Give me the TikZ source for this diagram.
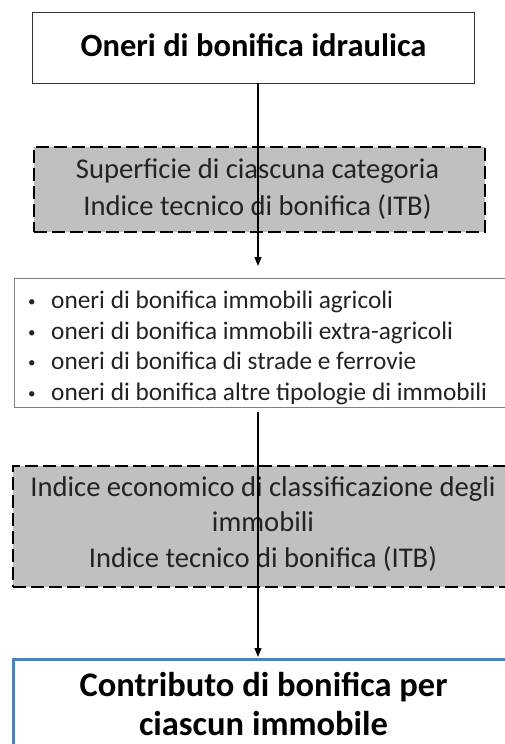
\documentclass[tikz,border=0pt]{standalone}
\usepackage{fontspec}
\setmainfont{Carlito}
\usetikzlibrary{arrows.meta}
\definecolor{boxgray}{RGB}{192,192,192}
\definecolor{edgeblue}{RGB}{79,129,189}
\definecolor{txt}{RGB}{35,35,35}
\newcommand{\smallbul}{\makebox[25pt][l]{\hspace{2pt}\raisebox{2pt}{\fontsize{15}{15}\selectfont\textbullet}}}
\tikzset{
  plainbox/.style={draw=black!80, line width=1.3pt, fill=white, inner sep=0pt},
  listbox/.style={draw=black!50, line width=1.4pt, fill=white, inner sep=0pt},
  graybox/.style={draw=black, fill=boxgray, line width=2pt, dash pattern=on 13pt off 5pt, inner sep=0pt},
  bluebox/.style={draw=edgeblue, line width=2.5pt, fill=white, inner sep=0pt},
  arr/.style={line width=1.2pt, -{Triangle[length=9pt,width=7pt]}},
  txtnode/.style={inner sep=0pt, text=txt, align=center},
}
\begin{document}
\begin{tikzpicture}[x=1pt,y=-1pt]
\useasboundingbox (0,0) rectangle (505,744);
\clip (0,0) rectangle (505,744);
% boxes
\node[plainbox, anchor=north west, minimum width=442pt, minimum height=71pt] (b1) at (32,12) {};
\node[graybox, anchor=north west, minimum width=451pt, minimum height=85pt] (b2) at (33,146) {};
\node[listbox, anchor=north west, minimum width=500pt, minimum height=129pt] (b3) at (14,278) {};
\node[graybox, anchor=north west, minimum width=510pt, minimum height=121pt] (b4) at (12,465) {};
\node[bluebox, anchor=north west, minimum width=510pt, minimum height=110pt] (b5) at (12,658) {};
% texts
\node[txtnode, text=black, font=\fontsize{32.5}{38}\selectfont\bfseries] (t1) at (253.5,45) {Oneri di bonifica idraulica};
\node[txtnode, font=\fontsize{28.6}{37}\selectfont] (t2) at (257.5,189) {Superficie di ciascuna categoria\\Indice tecnico di bonifica (ITB)};
\node[txtnode, align=left, anchor=west, font=\fontsize{25.3}{30.5}\selectfont] (t3) at (26,348) {%
\smallbul oneri di bonifica immobili agricoli\\
\smallbul oneri di bonifica immobili extra-agricoli\\
\smallbul oneri di bonifica di strade e ferrovie\\
\smallbul oneri di bonifica altre tipologie di immobili};
\node[txtnode, font=\fontsize{28.6}{35.5}\selectfont] (t4) at (263,524) {Indice economico di classificazione degli\\immobili\\Indice tecnico di bonifica (ITB)};
\node[txtnode, text=black, font=\fontsize{34.5}{39}\selectfont\bfseries] (t5) at (263.5,704) {Contributo di bonifica per\\ciascun immobile};
% connectors
\coordinate (a1s) at (258,83);
\coordinate (a1e) at (258,266);
\coordinate (a2s) at (258,412);
\coordinate (a2e) at (258,657);
\draw[arr] (a1s) -- (a1e);
\draw[arr] (a2s) -- (a2e);
\end{tikzpicture}
\end{document}
